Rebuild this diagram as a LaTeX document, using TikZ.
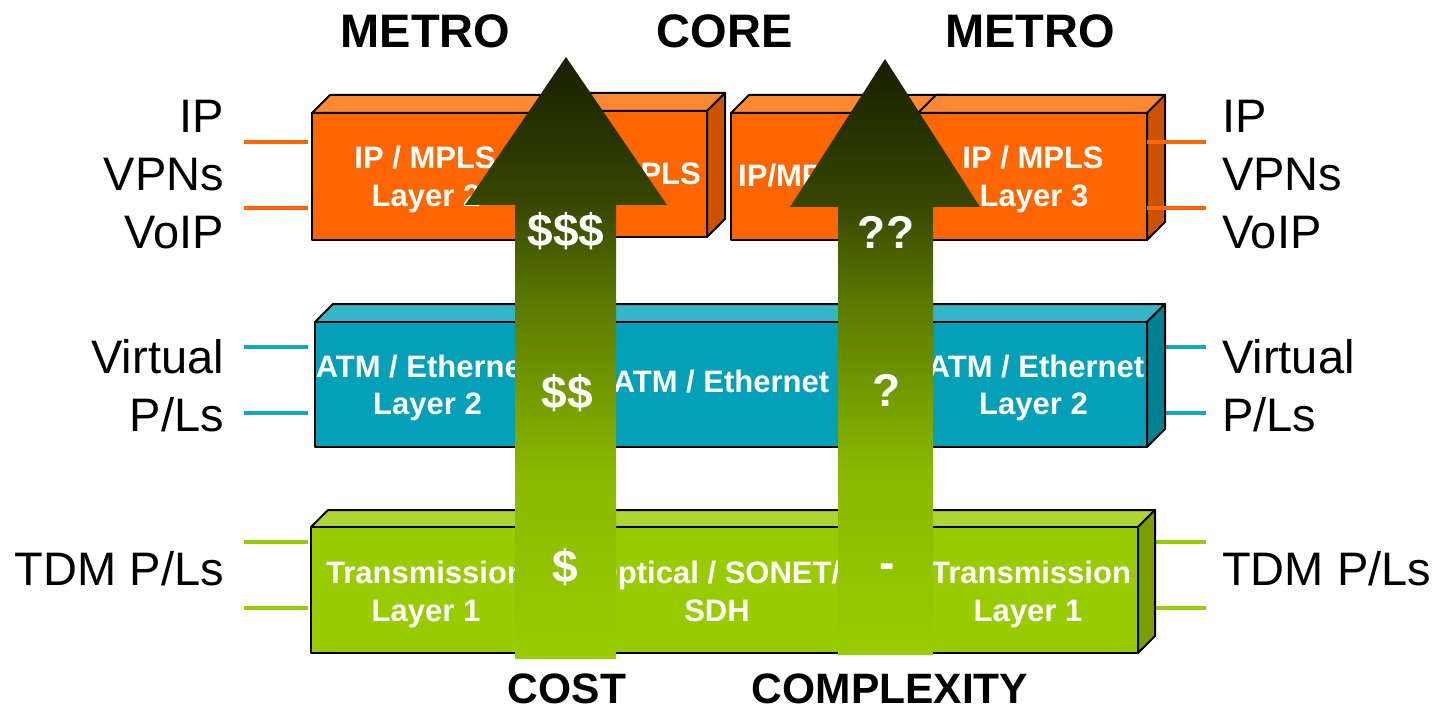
\documentclass[tikz,border=0pt]{standalone}
\usepackage{fontspec}
\setmainfont{Liberation Sans}

% face colours of the three service layers
\definecolor{orFront}{RGB}{255,102,0}
\definecolor{orTop}{RGB}{255,136,51}
\definecolor{orSide}{RGB}{204,82,0}
\definecolor{blFront}{RGB}{3,160,184}
\definecolor{blTop}{RGB}{52,181,200}
\definecolor{blSide}{RGB}{0,128,145}
\definecolor{grFront}{RGB}{153,204,0}
\definecolor{grTop}{RGB}{173,214,51}
\definecolor{grSide}{RGB}{122,158,0}
\definecolor{orStub}{RGB}{255,102,0}
\definecolor{blStub}{RGB}{16,168,196}
\definecolor{grStub}{RGB}{153,204,0}
% gradient stops of the two upward arrows
\definecolor{arA}{RGB}{24,30,0}
\definecolor{arB}{RGB}{55,72,0}
\definecolor{arC}{RGB}{90,120,0}
\definecolor{arD}{RGB}{138,184,0}
\definecolor{arE}{RGB}{153,204,0}

% 3D slab: x1, y1 (front top), x2, y2 (front bottom), depth, front, top, side colours
\newcommand{\slab}[8]{%
  \filldraw[boxline, fill=#7] (#1,#2) -- (#1+#5,#2-#5) -- (#3+#5,#2-#5) -- (#3,#2) -- cycle;
  \filldraw[boxline, fill=#8] (#3,#2) -- (#3+#5,#2-#5) -- (#3+#5,#4-#5) -- (#3,#4) -- cycle;
  \filldraw[boxline, fill=#6] (#1,#2) rectangle (#3,#4);
}

% shaded block arrow: tip x, tip y, head base y, head left, head right, shaft left, shaft right, bottom
\newcommand{\bigarrow}[8]{%
  \begin{scope}
    \clip (#1,#2) -- (#5,#3) -- (#7,#3) -- (#7,#8) -- (#6,#8) -- (#6,#3) -- (#4,#3) -- cycle;
    \shade[top color=arA, bottom color=arB] (#4,#2) rectangle (#5,#3+1);
    \shade[top color=arB, bottom color=arC] (#4,#3) rectangle (#5,301);
    \shade[top color=arC, bottom color=arD] (#4,300) rectangle (#5,471);
    \shade[top color=arD, bottom color=arE] (#4,470) rectangle (#5,#8);
  \end{scope}
}

\tikzset{
  boxline/.style={draw=black, line width=2pt, line join=round},
  boxtext/.style={text=white, inner sep=0pt, anchor=base,
                  font=\fontsize{31}{37}\selectfont\bfseries},
  sidetext/.style={text=black, inner sep=0pt,
                   font=\fontsize{47}{56}\selectfont},
  headtext/.style={text=black, inner sep=0pt, anchor=base,
                   font=\fontsize{47}{56}\selectfont\bfseries},
  foottext/.style={text=black, inner sep=0pt, anchor=base,
                   font=\fontsize{42.5}{50}\selectfont\bfseries},
  symtext/.style={text=white, inner sep=0pt, anchor=base,
                  font=\fontsize{46}{55}\selectfont\bfseries},
  stub/.style={line width=3.6pt, draw=#1},
}

\begin{document}
\begin{tikzpicture}[x=1pt, y=-1pt]
\useasboundingbox (0,0) rectangle (1439,711);

% ---------- side labels ----------
\node[sidetext, anchor=base east] (lIP)   at (224,133) {IP};
\node[sidetext, anchor=base east] (lVPN)  at (224,191) {VPNs};
\node[sidetext, anchor=base east] (lVoIP) at (224,248) {VoIP};
\node[sidetext, anchor=base east] (lVirt) at (224,373) {Virtual};
\node[sidetext, anchor=base east] (lPL)   at (224,431) {P/Ls};
\node[sidetext, anchor=base east] (lTDM)  at (224,585) {TDM P/Ls};

\node[sidetext, anchor=base west] (rIP)   at (1222,133) {IP};
\node[sidetext, anchor=base west] (rVPN)  at (1222,191) {VPNs};
\node[sidetext, anchor=base west] (rVoIP) at (1222,248) {VoIP};
\node[sidetext, anchor=base west] (rVirt) at (1222,373) {Virtual};
\node[sidetext, anchor=base west] (rPL)   at (1222,431) {P/Ls};
\node[sidetext, anchor=base west] (rTDM)  at (1222,585) {TDM P/Ls};

% ---------- stub end points ----------
\coordinate (oL1a) at (244,142);  \coordinate (oL1b) at (308,142);
\coordinate (oL2a) at (244,208);  \coordinate (oL2b) at (308,208);
\coordinate (bL1a) at (244,347);  \coordinate (bL1b) at (308,347);
\coordinate (bL2a) at (244,413);  \coordinate (bL2b) at (308,413);
\coordinate (gL1a) at (244,542);  \coordinate (gL1b) at (308,542);
\coordinate (gL2a) at (244,608);  \coordinate (gL2b) at (308,608);
\coordinate (oR1a) at (1147,142); \coordinate (oR1b) at (1206,142);
\coordinate (oR2a) at (1147,208); \coordinate (oR2b) at (1206,208);
\coordinate (bR1a) at (1165,347); \coordinate (bR1b) at (1206,347);
\coordinate (bR2a) at (1165,413); \coordinate (bR2b) at (1206,413);
\coordinate (gR1a) at (1155,542); \coordinate (gR1b) at (1206,542);
\coordinate (gR2a) at (1155,608); \coordinate (gR2b) at (1206,608);

\draw[stub=orStub] (oL1a) -- (oL1b);
\draw[stub=orStub] (oL2a) -- (oL2b);
\draw[stub=blStub] (bL1a) -- (bL1b);
\draw[stub=blStub] (bL2a) -- (bL2b);
\draw[stub=grStub] (gL1a) -- (gL1b);
\draw[stub=grStub] (gL2a) -- (gL2b);
\draw[stub=blStub] (bR1a) -- (bR1b);
\draw[stub=blStub] (bR2a) -- (bR2b);
\draw[stub=grStub] (gR1a) -- (gR1b);
\draw[stub=grStub] (gR2a) -- (gR2b);

% ---------- layer 3: IP / MPLS ----------
\slab{545}{111}{707}{237}{18}{orFront}{orTop}{orSide}
\slab{312}{113}{548}{240}{18}{orFront}{orTop}{orSide}
\slab{731}{113}{930}{240}{18}{orFront}{orTop}{orSide}
\slab{918}{113}{1147}{240}{18}{orFront}{orTop}{orSide}

\node[boxtext] (ipL1) at (425,169) {IP / MPLS};
\node[boxtext] (ipL2) at (426,207) {Layer 2};
\node[boxtext, anchor=base east] (ipC1) at (701,185) {IP/MPLS};
\node[boxtext, anchor=base west] (ipC2) at (738,187) {IP/MPLS};
\node[boxtext] (ipR1) at (1033,169) {IP / MPLS};
\node[boxtext] (ipR2) at (1034,207) {Layer 3};

\draw[stub=orStub] (oR1a) -- (oR1b);
\draw[stub=orStub] (oR2a) -- (oR2b);

% ---------- layer 2: ATM / Ethernet ----------
\slab{315}{322}{1147}{447}{18}{blFront}{blTop}{blSide}
\begin{scope}
  \clip (316,323) rectangle (1146,446);
  \node[boxtext] (atmL1) at (424,377) {ATM / Ethernet};
  \node[boxtext] (atmL2) at (427.5,414) {Layer 2};
  \node[boxtext] (atmC)  at (721,392) {ATM / Ethernet};
  \node[boxtext] (atmR1) at (1036,377) {ATM / Ethernet};
  \node[boxtext] (atmR2) at (1033.5,414) {Layer 2};
\end{scope}

% ---------- layer 1: transmission ----------
\slab{311}{527}{1138}{653}{17}{grFront}{grTop}{grSide}
\begin{scope}
  \clip (312,528) rectangle (1137,652);
  \node[boxtext] (trL1) at (426,583) {Transmission};
  \node[boxtext] (trL2) at (426,621) {Layer 1};
  \node[boxtext] (trC1) at (717,583) {Optical / SONET/};
  \node[boxtext] (trC2) at (717,621) {SDH};
  \node[boxtext] (trR1) at (1031,583) {Transmission};
  \node[boxtext] (trR2) at (1028,621) {Layer 1};
\end{scope}

% ---------- cost and complexity arrows ----------
\bigarrow{566}{57}{205}{465}{667}{515}{616}{659}
\bigarrow{885}{59}{207}{790}{980}{838}{933}{655}

\node[symtext] (c3) at (566,247) {\$\$\$};
\node[symtext] (c2) at (567,408) {\$\$};
\node[symtext] (c1) at (565,582) {\$};
\node[symtext] (x3) at (886,248) {??};
\node[symtext] (x2) at (887,406) {?};
\node[symtext] (x1) at (887,578) {-};

% ---------- headings ----------
\node[headtext] (hMetroL) at (425.5,48) {METRO};
\node[headtext] (hCore)   at (724.5,48) {CORE};
\node[headtext] (hMetroR) at (1030,48)  {METRO};
\node[foottext] (fCost)   at (567,703)  {COST};
\node[foottext] (fCompl)  at (890,703)  {COMPLEXITY};
\end{tikzpicture}
\end{document}
